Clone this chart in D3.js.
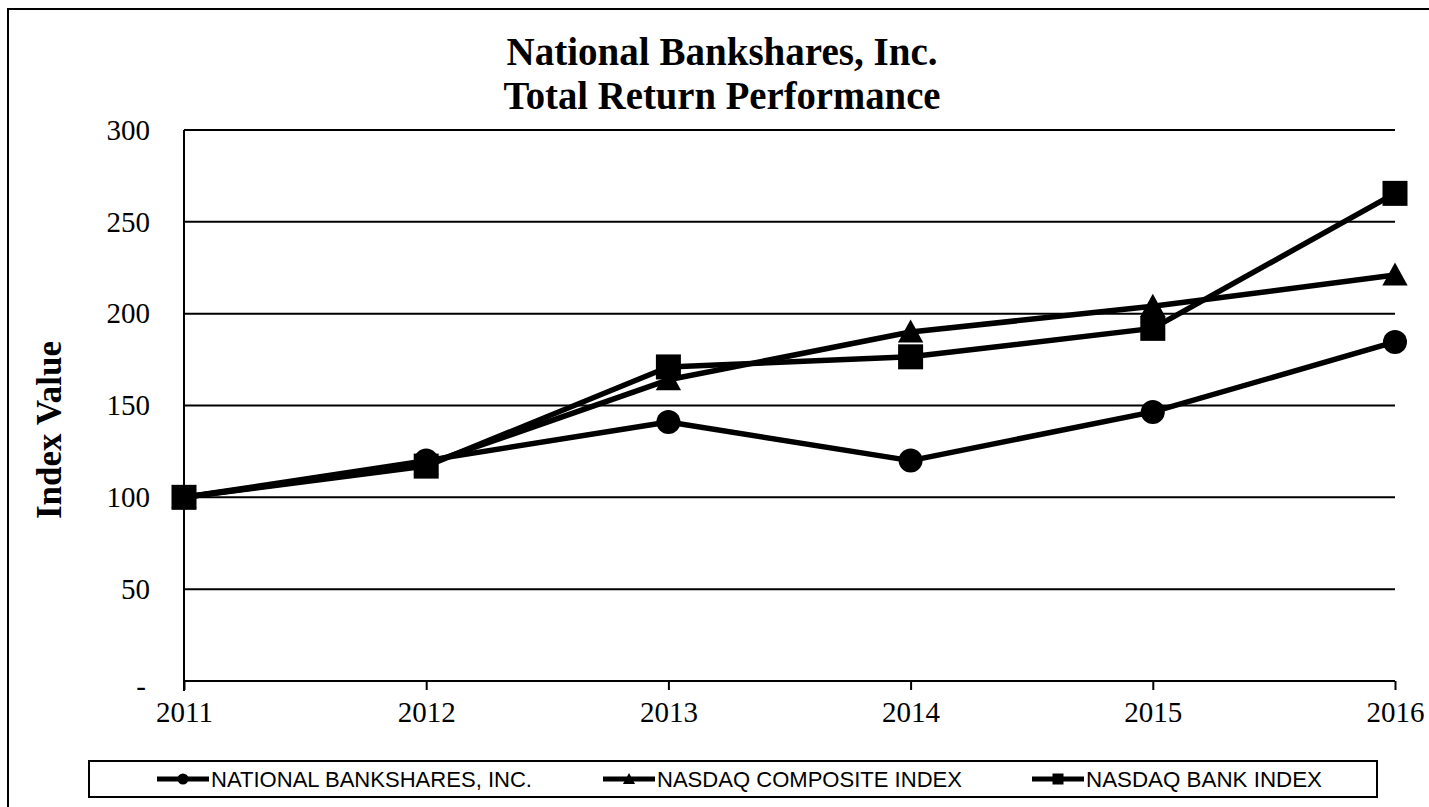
<!DOCTYPE html>
<html><head><meta charset="utf-8">
<script src="https://cdn.jsdelivr.net/npm/d3@7"></script>
<style>html,body{margin:0;padding:0;background:#fff;}svg{display:block;}</style>
</head><body>
<script>
const years = [2011, 2012, 2013, 2014, 2015, 2016];
const nationalBankshares = [100, 120, 141, 120, 146.5, 184.6];
const nasdaqComposite = [100, 118, 164, 190, 204, 221];
const nasdaqBank = [100, 117, 171, 176.5, 192, 265.5];
const yTicks = [0, 50, 100, 150, 200, 250, 300];
const seriesNames = ["NATIONAL BANKSHARES, INC.", "NASDAQ COMPOSITE INDEX", "NASDAQ BANK INDEX"];
const markerTypes = ["circle", "triangle", "square"];
const titleLines = ["National Bankshares, Inc.", "Total Return Performance"];

const W = 1429, H = 807;
const svg = d3.select("body").append("svg").attr("width", W).attr("height", H);
svg.append("rect").attr("width", W).attr("height", H).attr("fill", "#fff");

// outer frame (left and top visible)
svg.append("path").attr("d", "M8,820 L8,9 L1440,9").attr("fill", "none").attr("stroke", "#000").attr("stroke-width", 2);

const x = d3.scalePoint().domain(years).range([184, 1395]);
const y = d3.scaleLinear().domain([0, 300]).range([681, 130]);

// title
const titleWidths = [431, 437];
svg.selectAll("text.title").data(titleLines).join("text")
  .attr("class", "title")
  .attr("x", 722).attr("y", (d, i) => 65 + i * 44)
  .attr("text-anchor", "middle")
  .attr("font-family", "Liberation Serif, Times New Roman, serif")
  .attr("font-weight", "bold").attr("font-size", 40)
  .attr("textLength", (d, i) => titleWidths[i]).attr("lengthAdjust", "spacingAndGlyphs")
  .text(d => d);

// gridlines
const g = svg.append("g");
g.selectAll("line.grid").data(yTicks.filter(d => d > 0)).join("line")
  .attr("x1", 184).attr("x2", 1395)
  .attr("y1", d => y(d)).attr("y2", d => y(d))
  .attr("stroke", "#000").attr("stroke-width", 2);

// y axis
const yAxis = d3.axisLeft(y).tickValues(yTicks).tickSize(0).tickPadding(34)
  .tickFormat(d => d === 0 ? "-" : d);
const ya = svg.append("g").attr("transform", "translate(184,0)").call(yAxis);
ya.select(".domain").remove();
ya.selectAll("text").attr("font-family", "Liberation Serif, Times New Roman, serif").attr("font-size", 29).attr("fill", "#000");
ya.selectAll(".tick").filter(d => d === 0).select("text").attr("dx", -4).attr("dy", "0.5em");
svg.append("line").attr("x1", 184).attr("x2", 184).attr("y1", 130).attr("y2", 691).attr("stroke", "#000").attr("stroke-width", 2);

// x axis
const xAxis = d3.axisBottom(x).tickSize(9).tickPadding(11);
const xa = svg.append("g").attr("transform", "translate(0,681)").call(xAxis);
xa.select(".domain").attr("d", "M184,0H1395").attr("stroke-width", 2);
xa.selectAll(".tick line").attr("stroke-width", 2);
xa.selectAll("text").attr("font-family", "Liberation Serif, Times New Roman, serif").attr("font-size", 29).attr("fill", "#000");

// y label
svg.append("text")
  .attr("transform", "translate(61,430) rotate(-90)")
  .attr("text-anchor", "middle")
  .attr("font-family", "Liberation Serif, Times New Roman, serif")
  .attr("font-weight", "bold").attr("font-size", 35)
  .text("Index Value");

// series
const allSeries = [nationalBankshares, nasdaqComposite, nasdaqBank];
const line = d3.line().x((d, i) => x(years[i])).y(d => y(d));

function marker(sel, type, s) {
  if (type === "circle") sel.append("circle").attr("r", s / 2);
  else if (type === "square") sel.append("rect").attr("x", -s / 2).attr("y", -s / 2).attr("width", s).attr("height", s);
  else sel.append("path").attr("d", `M0,${-s * 0.55}L${s * 0.55},${s * 0.45}L${-s * 0.55},${s * 0.45}Z`);
}

const sizes = { circle: 24, triangle: 23, square: 25 };
allSeries.forEach((vals, si) => {
  svg.append("path").attr("d", line(vals)).attr("fill", "none").attr("stroke", "#000").attr("stroke-width", 5.5).attr("stroke-linejoin", "round");
});
allSeries.forEach((vals, si) => {
  vals.forEach((v, i) => {
    const m = svg.append("g").attr("transform", `translate(${x(years[i])},${y(v)})`).attr("fill", "#000");
    marker(m, markerTypes[si], sizes[markerTypes[si]]);
  });
});

// legend
svg.append("rect").attr("x", 89).attr("y", 761).attr("width", 1288).attr("height", 36)
  .attr("fill", "#fff").attr("stroke", "#000").attr("stroke-width", 2);
const legendX = [157, 603, 1032];
const legendTextW = [321, 305, 236];
seriesNames.forEach((name, i) => {
  const lg = svg.append("g").attr("transform", `translate(${legendX[i]},779)`);
  lg.append("line").attr("x1", 0).attr("x2", 52).attr("stroke", "#000").attr("stroke-width", 5);
  const m = lg.append("g").attr("transform", "translate(26,0)").attr("fill", "#000");
  marker(m, markerTypes[i], 11);
  lg.append("text").attr("x", 54).attr("y", 8)
    .attr("font-family", "Liberation Sans, Arial, sans-serif").attr("font-size", 22)
    .attr("textLength", legendTextW[i]).attr("lengthAdjust", "spacingAndGlyphs")
    .text(name);
});
</script>
</body></html>
